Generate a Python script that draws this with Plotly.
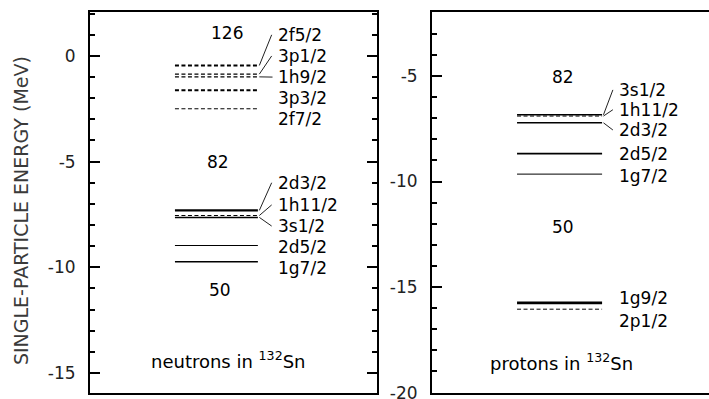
import plotly.graph_objects as go

# ---------------- data ----------------
neutron_levels = ["2f5/2", "3p1/2", "1h9/2", "3p3/2", "2f7/2",
                  "2d3/2", "1h11/2", "3s1/2", "2d5/2", "1g7/2"]
neutron_energy = [-0.45, -0.86, -0.99, -1.62, -2.50,
                  -7.31, -7.55, -7.64, -8.97, -9.74]
neutron_parity = ["-", "-", "-", "-", "-", "+", "-", "+", "+", "+"]

proton_levels = ["3s1/2", "1h11/2", "2d3/2", "2d5/2", "1g7/2", "1g9/2", "2p1/2"]
proton_energy = [-6.84, -6.90, -7.22, -8.68, -9.65, -15.75, -16.05]
proton_parity = ["+", "-", "+", "+", "+", "+", "-"]

neutron_gaps = ["126", "82", "50"]
proton_gaps = ["82", "50"]

neutron_ticks = [0, -5, -10, -15]
neutron_ticktext = ["0", "-5", "-10", "-15"]
proton_ticks = [-5, -10, -15, -20]
proton_ticktext = ["-5", "-10", "-15", "-20"]

# ---------------- layout / style (not data) ----------------
neutron_label_y = [1.0, 0.0, -1.0, -2.0, -3.0, -6.0, -7.05, -8.05, -9.05, -10.05]
neutron_connector = ["line", "line", "elbow", None, None, "line", "line", "line", None, None]
neutron_width = [2.0, 1.1, 1.1, 2.0, 1.0, 2.2, 1.0, 1.5, 1.0, 1.6]
neutron_gap_pos = [(0.477, 1.09), (0.446, -5.03), (0.453, -11.09)]

proton_label_y = [-5.66, -6.6, -7.56, -8.7, -9.72, -15.5, -16.6]
proton_connector = ["line", "line", "line", None, None, None, None]
proton_width = [1.6, 1.0, 1.6, 1.6, 1.0, 2.6, 1.0]
proton_gap_pos = [(0.473, -5.05), (0.473, -12.15)]

FONT = "DejaVu Sans, sans-serif"
FS = 17

fig = go.Figure()


def add_panel(xa, ya, levels, energy, parity, label_y, connector, width,
              x0, x1, xlab):
    for name, e, p, w in zip(levels, energy, parity, width):
        fig.add_trace(go.Scatter(
            x=[x0, x1], y=[e, e], mode="lines", xaxis=xa, yaxis=ya,
            line=dict(color="black", width=w,
                      dash="solid" if p == "+" else "4px,2.5px"),
            showlegend=False, hoverinfo="skip"))
    for name, e, ly, c in zip(levels, energy, label_y, connector):
        if c == "line":
            xs = [x1 + 0.005, xlab - 0.015]
            ys = [e, ly]
        elif c == "elbow":
            xs = [x1 + 0.005, x1 + 0.025, xlab - 0.012]
            ys = [e, ly, ly]
        else:
            xs = None
        if xs:
            fig.add_trace(go.Scatter(
                x=xs, y=ys, mode="lines", xaxis=xa, yaxis=ya,
                line=dict(color="#222", width=1),
                showlegend=False, hoverinfo="skip"))
        fig.add_annotation(x=xlab, y=ly, xref=xa, yref=ya, text=name,
                           showarrow=False, xanchor="left", yanchor="middle",
                           font=dict(family=FONT, size=FS, color="black"))


add_panel("x", "y", neutron_levels, neutron_energy, neutron_parity,
          neutron_label_y, neutron_connector, neutron_width, 0.296, 0.585, 0.648)
add_panel("x2", "y2", proton_levels, proton_energy, proton_parity,
          proton_label_y, proton_connector, proton_width, 0.307, 0.614, 0.668)

for t, (gx, gy) in zip(neutron_gaps, neutron_gap_pos):
    fig.add_annotation(x=gx, y=gy, xref="x", yref="y", text=t, showarrow=False,
                       font=dict(family=FONT, size=FS, color="black"))
for t, (gx, gy) in zip(proton_gaps, proton_gap_pos):
    fig.add_annotation(x=gx, y=gy, xref="x2", yref="y2", text=t, showarrow=False,
                       font=dict(family=FONT, size=FS, color="black"))

fig.add_annotation(x=0.481, y=-14.4, xref="x", yref="y",
                   text="neutrons in <sup>132</sup>Sn", showarrow=False,
                   font=dict(family=FONT, size=18, color="black"))
fig.add_annotation(x=0.469, y=-18.55, xref="x2", yref="y2",
                   text="protons in <sup>132</sup>Sn", showarrow=False,
                   font=dict(family=FONT, size=18, color="black"))

W, H = 709, 399
fig.add_annotation(x=21 / W, y=1 - 208.5 / H, xref="paper", yref="paper",
                   xanchor="center", yanchor="middle",
                   text="SINGLE-PARTICLE ENERGY (MeV)", showarrow=False,
                   textangle=-90, font=dict(family=FONT, size=19, color="#3a3a3a"))

xaxis_common = dict(showgrid=False, zeroline=False, showticklabels=False,
                    ticks="", showline=True, linecolor="black", linewidth=2,
                    mirror=True, range=[0, 1], fixedrange=True)
yaxis_common = dict(showgrid=False, zeroline=False, showline=True,
                    linecolor="black", linewidth=2, ticks="inside",
                    ticklen=10, tickwidth=2, tickcolor="black",
                    tickmode="array", ticklabelstandoff=9,
                    ticklabeloverflow="allow",
                    tickfont=dict(family=FONT, size=FS, color="#222"),
                    minor=dict(ticks="inside", ticklen=5, tickwidth=2,
                               tickcolor="black", tickmode="array",
                               tickvals=list(range(-20, 3))),
                    fixedrange=True)

fig.update_layout(
    width=W, height=H,
    margin=dict(l=0, r=0, t=12, b=6, autoexpand=False),
    paper_bgcolor="white", plot_bgcolor="white",
    xaxis=dict(domain=[90 / W, 377 / W], anchor="y", **xaxis_common),
    xaxis2=dict(domain=[432 / W, 1.0], anchor="y2", **xaxis_common),
    yaxis=dict(range=[-15.95, 2.08], anchor="x", mirror="allticks",
               tickvals=neutron_ticks, ticktext=neutron_ticktext,
               **yaxis_common),
    yaxis2=dict(range=[-20.02, -1.97], anchor="x2", mirror=False,
                tickvals=proton_ticks, ticktext=proton_ticktext,
                **yaxis_common),
)

fig.write_html("out.html", config={"displayModeBar": False},
               post_script="document.body.style.margin='0';"
                           "document.body.style.overflow='hidden';")
